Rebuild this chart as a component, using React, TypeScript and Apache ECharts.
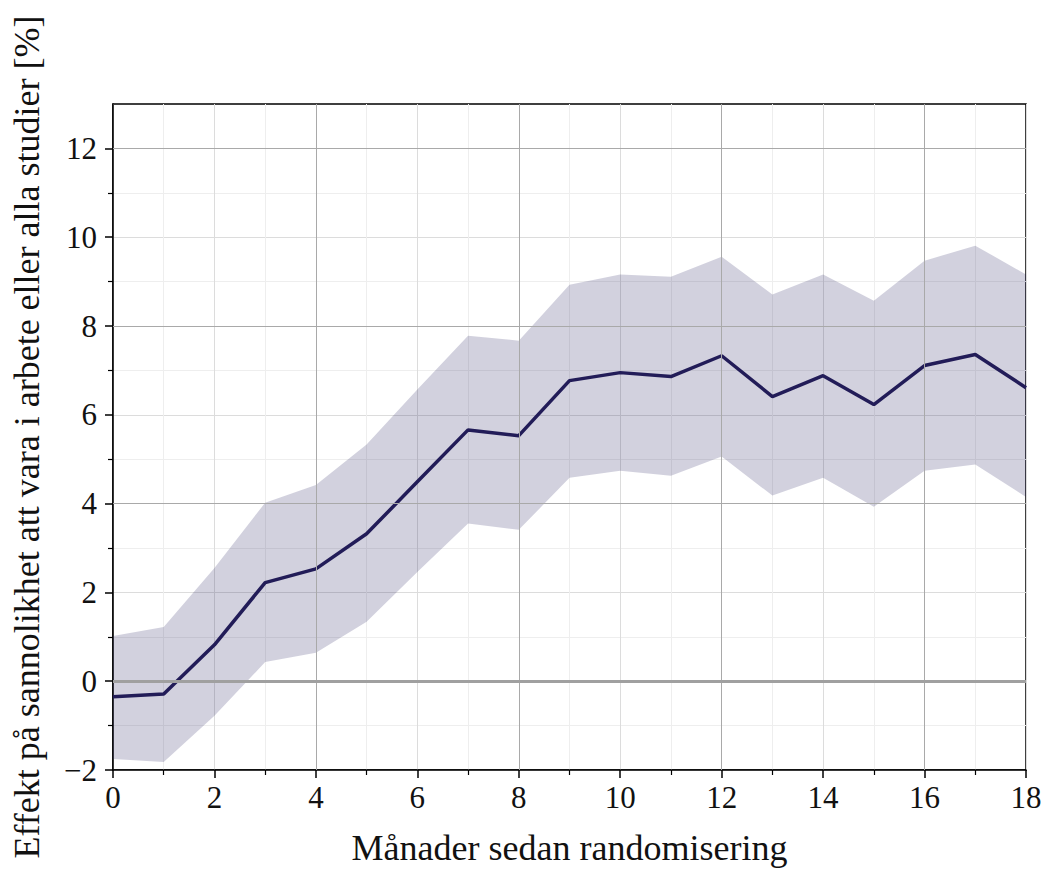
import React, { useEffect, useRef } from "react";
import * as echarts from "echarts";

const months = [0, 1, 2, 3, 4, 5, 6, 7, 8, 9, 10, 11, 12, 13, 14, 15, 16, 17, 18];
const meanEffect = [-0.35, -0.29, 0.82, 2.22, 2.53, 3.32, 4.49, 5.66, 5.53, 6.77, 6.95, 6.86, 7.33, 6.41, 6.88, 6.23, 7.11, 7.36, 6.61];
const upperCI = [1.02, 1.22, 2.55, 4.02, 4.42, 5.33, 6.57, 7.78, 7.67, 8.93, 9.16, 9.11, 9.56, 8.71, 9.16, 8.57, 9.47, 9.81, 9.16];
const lowerCI = [-1.75, -1.82, -0.78, 0.43, 0.64, 1.34, 2.46, 3.55, 3.41, 4.58, 4.74, 4.63, 5.06, 4.18, 4.58, 3.93, 4.74, 4.88, 4.15];
const yTicks = [-2, 0, 2, 4, 6, 8, 10, 12];
const xDarkGrid = [4, 8, 12, 16];
const yDarkGrid = [4, 8, 12];

const FONT = "'Liberation Serif', 'DejaVu Serif', serif";

export default function App() {
  const ref = useRef<HTMLDivElement>(null);
  useEffect(() => {
    document.body.style.margin = "0";
    const chart = echarts.init(ref.current!, null, { renderer: "svg" });
    const fmt = (v: number) => String(v).replace("-", "\u2212");
    const option: any = {
      animation: false,
      backgroundColor: "#ffffff",
      textStyle: { fontFamily: FONT },
      grid: {
        left: 113, top: 104, right: 20, bottom: 103,
        containLabel: false, outerBoundsMode: "none",
        show: true, borderColor: "#000", borderWidth: 1.5, backgroundColor: "transparent",
      },
      xAxis: [{
        type: "value", min: 0, max: 18, interval: 2,
        name: "Månader sedan randomisering", nameLocation: "middle", nameGap: 60,
        nameTextStyle: { fontFamily: FONT, fontSize: 36, color: "#111" },
        axisLine: { show: true, onZero: false, lineStyle: { color: "#000", width: 1.5 } },
        axisTick: { show: true, length: 8, lineStyle: { color: "#000", width: 1.5 } },
        minorTick: { show: true, splitNumber: 2, length: 5, lineStyle: { color: "#000", width: 1.2 } },
        axisLabel: { fontFamily: FONT, fontSize: 31, color: "#111", margin: 12, formatter: fmt },
        splitLine: { show: true, lineStyle: { color: "#dcdcdc", width: 1 } },
        minorSplitLine: { show: true, lineStyle: { color: "#eeeeee", width: 1 } },
      }],
      yAxis: [{
        type: "value", min: -2, max: 13, interval: 2,
        name: "Effekt på sannolikhet att vara i arbete eller alla studier [%]",
        nameLocation: "middle", nameGap: 68, nameRotate: 90,
        nameTextStyle: { fontFamily: FONT, fontSize: 36, color: "#111" },
        axisLine: { show: true, onZero: false, lineStyle: { color: "#000", width: 1.5 } },
        axisTick: { show: true, length: 8, customValues: yTicks, lineStyle: { color: "#000", width: 1.5 } },
        minorTick: { show: true, splitNumber: 2, length: 5, lineStyle: { color: "#000", width: 1.2 } },
        axisLabel: {
          fontFamily: FONT, fontSize: 31, color: "#111", margin: 16, customValues: yTicks,
          formatter: (v: number) => (v > 12 ? "" : fmt(v)),
        },
        splitLine: { show: true, lineStyle: { color: "#dcdcdc", width: 1 } },
        minorSplitLine: { show: true, lineStyle: { color: "#eeeeee", width: 1 } },
      }],
      series: [
        {
          type: "custom", name: "band", data: [0], z: 1, silent: true,
          renderItem: (params: any, api: any) => {
            const top = months.map((m, i) => api.coord([m, upperCI[i]]));
            const bottom = months.map((m, i) => api.coord([m, lowerCI[i]])).reverse();
            return {
              type: "polygon",
              shape: { points: top.concat(bottom) },
              style: { fill: "rgba(31,26,90,0.2)" },
            };
          },
          markLine: {
            silent: true, symbol: "none", label: { show: false },
            lineStyle: { color: "#a9a9a9", width: 1, type: "solid" },
            data: [
              ...xDarkGrid.map((x) => ({ xAxis: x })),
              ...yDarkGrid.map((y) => ({ yAxis: y })),
              { yAxis: 0, lineStyle: { color: "#a0a0a0", width: 3, type: "solid" } },
            ],
          },
        },
        {
          type: "line", name: "mean",
          data: months.map((m, i) => [m, meanEffect[i]]),
          symbol: "none", lineStyle: { color: "#221c58", width: 3.5 }, z: 3,
        },
      ],
    };
    chart.setOption(option);
    return () => chart.dispose();
  }, []);
  return <div ref={ref} style={{ width: 1046, height: 873 }} />;
}
